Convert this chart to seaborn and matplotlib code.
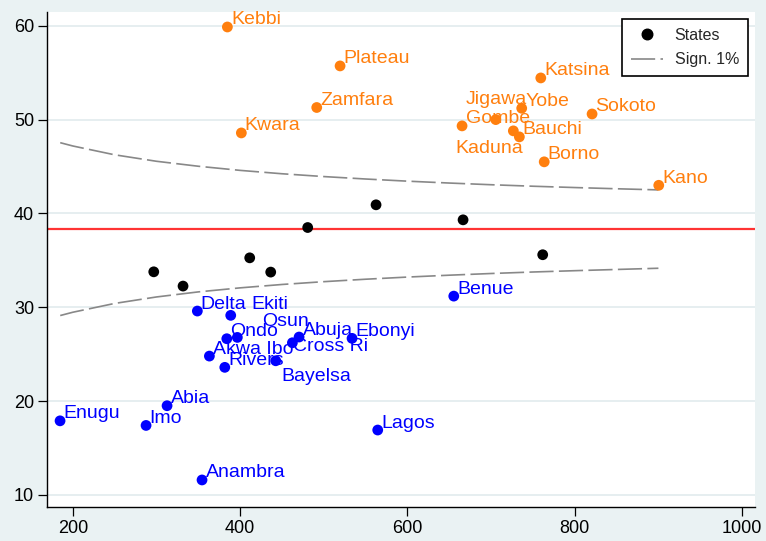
import numpy as np
import pandas as pd
import matplotlib
matplotlib.use("Agg")
import matplotlib.pyplot as plt
import seaborn as sns
from matplotlib.lines import Line2D

# ---------------- data ----------------
high_names = ["Kebbi", "Kwara", "Plateau", "Zamfara", "Gombe", "Jigawa", "Yobe",
              "Kaduna", "Bauchi", "Borno", "Katsina", "Sokoto", "Kano"]
high_x = [384.8, 401.5, 519.5, 491.6, 665.3, 705.6, 736.6, 726.6, 733.8, 763.5, 759.4, 820.7, 900.4]
high_y = [59.87, 48.58, 55.72, 51.29, 49.33, 50.0, 51.21, 48.8, 48.16, 45.5, 54.44, 50.6, 43.0]

low_names = ["Delta", "Ekiti", "Ondo", "Osun", "Akwa Ibo", "Rivers", "Bayelsa", "Cross Ri",
             "Abuja", "Ebonyi", "Benue", "Lagos", "Abia", "Enugu", "Imo", "Anambra"]
low_x = [348.9, 388.8, 384.1, 396.7, 363.3, 381.7, 442.6, 462.5, 470.5, 533.8, 655.4, 564.5,
         312.7, 184.8, 287.6, 354.5]
low_y = [29.6, 29.14, 26.65, 26.79, 24.8, 23.6, 24.3, 26.22, 26.83, 26.69, 31.19, 16.92,
         19.51, 17.9, 17.41, 11.6]

mid_x = [296.8, 331.8, 411.5, 436.6, 480.8, 562.5, 666.5, 761.7]
mid_y = [33.78, 32.26, 35.27, 33.75, 38.5, 40.92, 39.32, 35.6]

national_mean = 38.33

limit_n = [185, 200, 250, 300, 350, 400, 450, 500, 550, 600, 650, 700, 750, 800, 850, 900]
upper_limit = [47.54, 47.19, 46.25, 45.56, 45.03, 44.59, 44.23, 43.93, 43.67, 43.44, 43.24,
               43.06, 42.90, 42.76, 42.63, 42.51]
lower_limit = [29.12, 29.47, 30.41, 31.10, 31.64, 32.07, 32.43, 32.73, 32.99, 33.22, 33.42,
               33.60, 33.76, 33.90, 34.03, 34.16]

x_ticks = [200, 400, 600, 800, 1000]
y_ticks = [10, 20, 30, 40, 50, 60]
legend_labels = ["States", "Sign. 1%"]

# ---------------- style ----------------
BG = "#EAF2F3"
ORANGE = "#FF7F0E"
BLUE = "#0000FF"
BLACK = "#000000"
GRAY = "#888888"
RED = "#FF3333"

sns.set_theme(style="white")
plt.rcParams["font.family"] = ["Liberation Sans", "DejaVu Sans"]

fig = plt.figure(figsize=(7.66, 5.41), dpi=100, facecolor=BG)
ax = fig.add_axes([0.0618, 0.0634, 0.9239, 0.915])
ax.set_facecolor("white")

df = pd.concat([
    pd.DataFrame({"name": high_names, "x": high_x, "y": high_y, "group": "high"}),
    pd.DataFrame({"name": low_names, "x": low_x, "y": low_y, "group": "low"}),
    pd.DataFrame({"name": [""] * len(mid_x), "x": mid_x, "y": mid_y, "group": "mid"}),
], ignore_index=True)

# funnel limits
dash = (0, (14.5, 3.2))
sns.lineplot(x=limit_n, y=upper_limit, ax=ax, color=GRAY, lw=1.2, linestyle=dash,
             estimator=None, sort=True, zorder=2)
sns.lineplot(x=limit_n, y=lower_limit, ax=ax, color=GRAY, lw=1.2, linestyle=dash,
             estimator=None, sort=True, zorder=2)

ax.axhline(national_mean, color=RED, lw=1.6, zorder=2)

sns.scatterplot(data=df, x="x", y="y", hue="group",
                palette={"high": ORANGE, "low": BLUE, "mid": BLACK},
                s=60, linewidth=0, legend=False, ax=ax, zorder=3)

# labels
default_off = (3.5, 2.5, "left")
special_off = {
    "Jigawa": (1, 16, "center"),
    "Kaduna": (10, -22, "right"),
    "Ekiti": (21, 6, "left"),
    "Osun": (24.4, 11.3, "left"),
    "Bayelsa": (6, -20.3, "left"),
    "Cross Ri": (1, -8, "left"),
}
for _, r in df[df["group"] != "mid"].iterrows():
    dx, dy, ha = special_off.get(r["name"], default_off)
    ax.annotate(r["name"], (r["x"], r["y"]), xytext=(dx, dy), textcoords="offset pixels",
                ha=ha, va="baseline", fontsize=14,
                color=ORANGE if r["group"] == "high" else BLUE, zorder=4)

# axes
ax.set_xlim(169.6, 1015.5)
ax.set_ylim(8.75, 61.5)
ax.set_xticks(x_ticks)
ax.set_yticks(y_ticks)
ax.set_xlabel("")
ax.set_ylabel("")
ax.yaxis.grid(True, color="#E4EDEF", lw=1.3)
ax.xaxis.grid(False)
ax.set_axisbelow(True)
for s in ["top", "right"]:
    ax.spines[s].set_visible(False)
for s in ["left", "bottom"]:
    ax.spines[s].set_color("black")
    ax.spines[s].set_linewidth(1.0)
ax.tick_params(axis="both", which="major", direction="out", length=6.5, width=0.9,
               color="black", labelsize=13, labelcolor="black", pad=3,
               left=True, bottom=True)

handles = [
    Line2D([], [], marker="o", color=BLACK, linestyle="none", markersize=7.6, label=legend_labels[0]),
    Line2D([], [], color=GRAY, lw=1.2, linestyle=dash, label=legend_labels[1]),
]
leg = ax.legend(handles=handles, loc="upper right", bbox_to_anchor=(0.9897, 0.9853),
                borderaxespad=0, fontsize=11.5, frameon=True, fancybox=False,
                edgecolor="black", facecolor="white", framealpha=1,
                handlelength=2.05, handletextpad=0.7, labelspacing=0.6, borderpad=0.55)
leg.get_frame().set_linewidth(1.2)

fig.savefig("out.png", dpi=100, facecolor=BG)
